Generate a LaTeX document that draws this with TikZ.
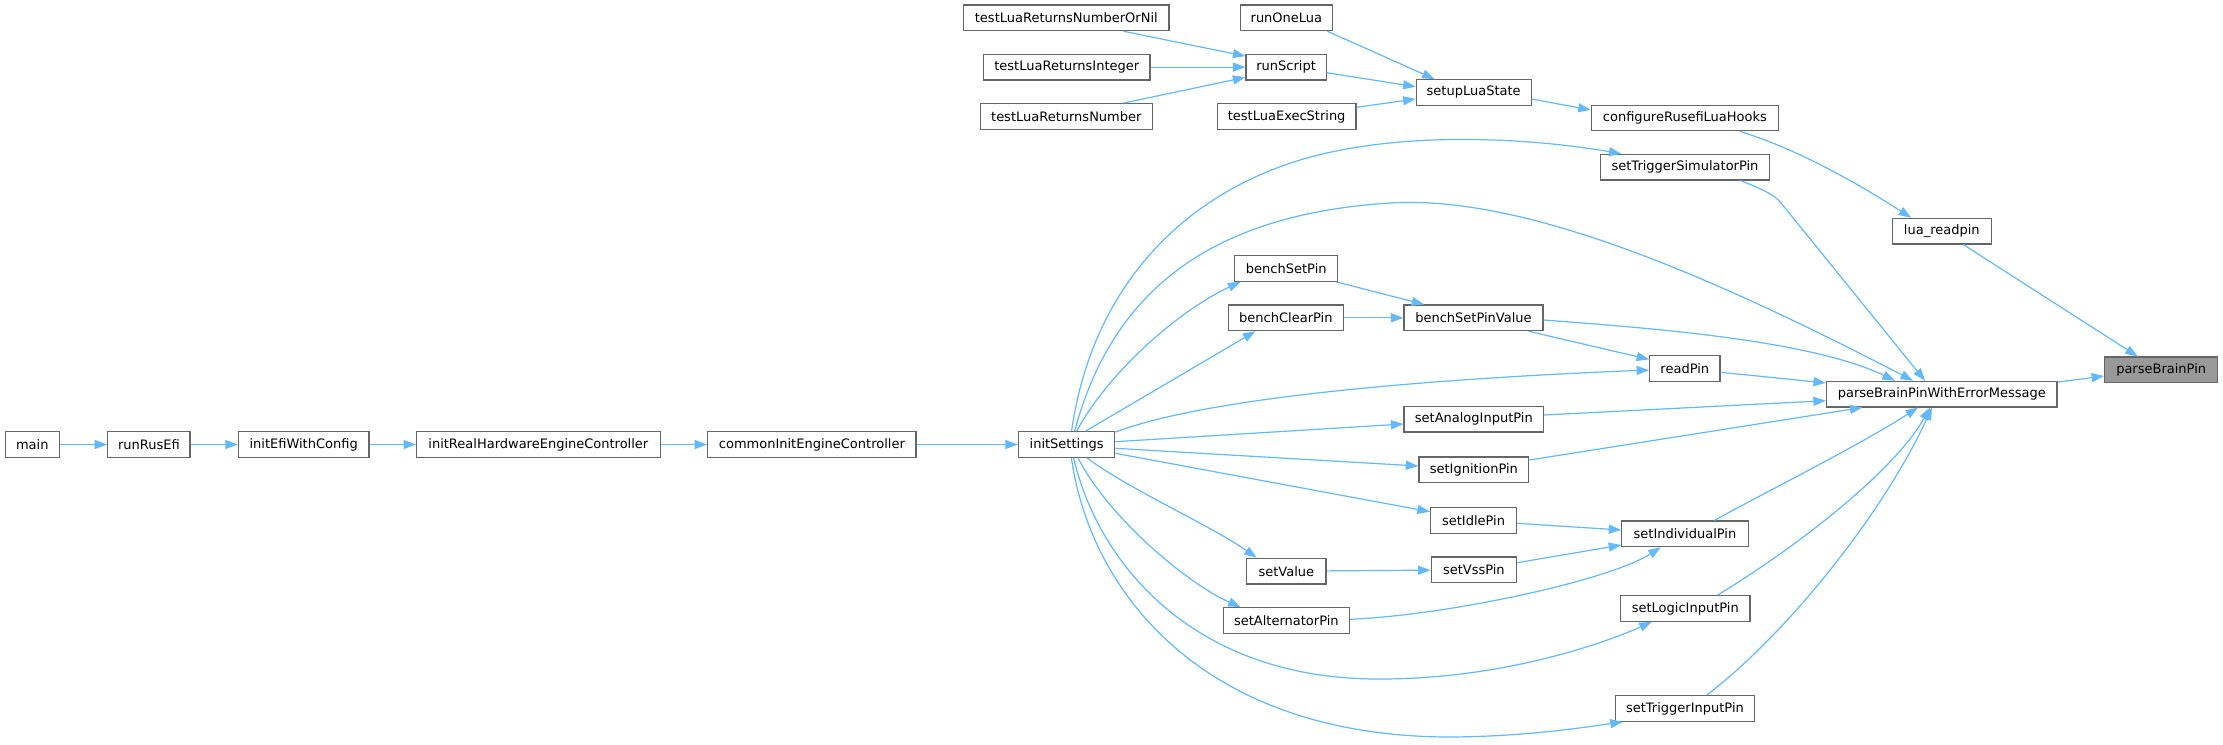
\documentclass[tikz,border=0pt]{standalone}
\usepackage{fontspec}
\setmainfont{DejaVu Sans}
\usetikzlibrary{arrows.meta,calc}
\definecolor{edgeblue}{RGB}{99,184,255}
\definecolor{boxborder}{RGB}{102,102,102}
\definecolor{hlfill}{RGB}{153,153,153}
\tikzset{
  fn/.style={draw=boxborder, line width=1.2pt, fill=white, minimum height=25.6pt, inner sep=0pt, font=\fontsize{13}{15}\selectfont, text=black},
  hl/.style={fn, fill=hlfill},
  call/.style={draw=edgeblue, line width=1.2pt, -{Triangle[length=12.5pt,width=9pt]}},
}
\begin{document}
\begin{tikzpicture}[x=1pt,y=-1pt]
\useasboundingbox[fill=white] (0,0) rectangle (2223,744);
% nodes
\node[fn, minimum width=54.3pt] (main) at (32.25,444.5) {main};
\node[fn, minimum width=82.2pt] (runRusEfi) at (148.9,444.5) {runRusEfi};
\node[fn, minimum width=130.5pt] (initEfiWithConfig) at (303.65,444.5) {initEfiWithConfig};
\node[fn, minimum width=243.5pt] (initReal) at (538.35,444.5) {initRealHardwareEngineController};
\node[fn, minimum width=208.3pt] (commonInit) at (811.85,444.5) {commonInitEngineController};
\node[fn, minimum width=96.3pt] (initSettings) at (1066.6,444.5) {initSettings};
\node[fn, minimum width=205.4pt] (tlNumberOrNil) at (1066.3,17.85) {testLuaReturnsNumberOrNil};
\node[fn, minimum width=91.6pt] (runOneLua) at (1286.4,17.85) {runOneLua};
\node[fn, minimum width=166.4pt] (tlInteger) at (1066.8,67.15) {testLuaReturnsInteger};
\node[fn, minimum width=80.2pt] (runScript) at (1286.1,67.15) {runScript};
\node[fn, minimum width=171.8pt] (tlNumber) at (1066.3,116.5) {testLuaReturnsNumber};
\node[fn, minimum width=138.7pt] (tlExec) at (1286.65,116.5) {testLuaExecString};
\node[fn, minimum width=114.9pt] (setupLuaState) at (1473.65,92.5) {setupLuaState};
\node[fn, minimum width=187.2pt] (configHooks) at (1684.9,118) {configureRusefiLuaHooks};
\node[fn, minimum width=169.1pt] (setTrigSim) at (1685,167.15) {setTriggerSimulatorPin};
\node[fn, minimum width=99pt] (luaReadpin) at (1941.8,231.15) {lua\_readpin};
\node[fn, minimum width=102.9pt] (benchSetPin) at (1286.25,268.5) {benchSetPin};
\node[fn, minimum width=114.7pt] (benchClearPin) at (1285.85,317.85) {benchClearPin};
\node[fn, minimum width=138.9pt] (benchSetPinValue) at (1473.45,317.85) {benchSetPinValue};
\node[fn, minimum width=70.2pt] (readPin) at (1684.8,368.5) {readPin};
\node[fn, minimum width=230.5pt] (pbpwem) at (1941.75,394.1) {parseBrainPinWithErrorMessage};
\node[hl, minimum width=112.9pt] (parseBrainPin) at (2161.15,369.85) {parseBrainPin};
\node[fn, minimum width=139.6pt] (setAnalog) at (1473.8,419.15) {setAnalogInputPin};
\node[fn, minimum width=109.9pt] (setIgnition) at (1473.85,469.85) {setIgnitionPin};
\node[fn, minimum width=86.1pt] (setIdle) at (1473.55,520.5) {setIdlePin};
\node[fn, minimum width=126.3pt] (setIndividual) at (1684.95,533.85) {setIndividualPin};
\node[fn, minimum width=79.1pt] (setValue) at (1286.35,571.15) {setValue};
\node[fn, minimum width=85.5pt] (setVss) at (1473.85,569.85) {setVssPin};
\node[fn, minimum width=126.3pt] (setAlternator) at (1286.35,620.5) {setAlternatorPin};
\node[fn, minimum width=129.5pt] (setLogic) at (1685.25,608.5) {setLogicInputPin};
\node[fn, minimum width=139.1pt] (setTrigInput) at (1684.95,708.5) {setTriggerInputPin};
% main chain
\draw[call] (main) -- (runRusEfi);
\draw[call] (runRusEfi) -- (initEfiWithConfig);
\draw[call] (initEfiWithConfig) -- (initReal);
\draw[call] (initReal) -- (commonInit);
\draw[call] (commonInit) -- (initSettings);
% from initSettings
\draw[call] ($(initSettings.north)+(5,0)$) .. controls (1090,300) and (1170,200) .. (1300,160) .. controls (1400,130) and (1530,138) .. ($(setTrigSim.north west)+(21.5,0)$);
\draw[call] ($(initSettings.north)+(8,0)$) .. controls (1110,300) and (1200,215) .. (1390,203) .. controls (1520,195) and (1700,270) .. ($(pbpwem.north)+(-28.75,0)$);
\draw[call] ($(initSettings.north)+(10,0)$) .. controls (1110,370) and (1180,310) .. ($(benchSetPin.south west)+(6.2,0)$);
\draw[call] ($(initSettings.north)+(19,0)$) -- ($(benchClearPin.south)+(-30.5,0)$);
\draw[call] ($(initSettings.north east)+(0,1)$) .. controls (1200,400) and (1400,380) .. ($(readPin.west)+(0,1.5)$);
\draw[call] ($(initSettings.east)+(0,-2.8)$) -- ($(setAnalog.west)+(0,4.85)$);
\draw[call] ($(initSettings.east)+(0,3.8)$) -- ($(setIgnition.west)+(0,-3.85)$);
\draw[call] ($(initSettings.east)+(0,8.8)$) -- ($(setIdle.west)+(0,-8.8)$);
\draw[call] ($(initSettings.south)+(20.4,0)$) .. controls (1130,490) and (1210,525) .. ($(setValue.north)+(-29.65,0)$);
\draw[call] ($(initSettings.south)+(11.4,0)$) .. controls (1110,520) and (1190,585) .. ($(setAlternator.north west)+(18,0)$);
\draw[call] ($(initSettings.south)+(7,0)$) .. controls (1100,570) and (1200,680) .. (1380,679) .. controls (1500,679) and (1600,645) .. ($(setLogic.south)+(-33.45,0)$);
\draw[call] ($(initSettings.south)+(4.8,0)$) .. controls (1090,590) and (1200,735) .. (1446,737) .. controls (1520,737) and (1580,728) .. ($(setTrigInput.south west)+(8,0)$);
% bench
\draw[call] ($(benchSetPin.south east)+(-2,0)$) -- ($(benchSetPinValue.north west)+(20.7,0)$);
\draw[call] (benchClearPin) -- (benchSetPinValue);
\draw[call] ($(benchSetPinValue.south east)+(-15,0)$) -- ($(readPin.north west)+(0,4.3)$);
\draw[call] ($(benchSetPinValue.east)+(0,2.15)$) .. controls (1650,328) and (1810,340) .. ($(pbpwem.north)+(-46.75,0)$);
% into pbpwem
\draw[call] ($(readPin.east)+(0,3.8)$) -- ($(pbpwem.north west)+(0,2.2)$);
\draw[call] ($(setAnalog.east)+(0,-4.15)$) -- ($(pbpwem.west)+(0,6.6)$);
\draw[call] ($(setIgnition.east)+(0,-9.85)$) -- ($(pbpwem.south west)+(36.5,0)$);
\draw[call] ($(setIndividual.north)+(29.35,0)$) .. controls (1760,495) and (1860,445) .. ($(pbpwem.south)+(-23.75,0)$);
\draw[call] ($(setLogic.north)+(32.25,0)$) .. controls (1800,545) and (1895,470) .. ($(pbpwem.south)+(-11.75,0)$);
\draw[call] ($(setTrigInput.north)+(21.65,0)$) .. controls (1780,640) and (1880,520) .. ($(pbpwem.south)+(-9.75,0)$);
\draw[call] ($(setTrigSim.south)+(55.4,0)$) .. controls (1760,188) and (1775,195) .. (1781,203) -- ($(pbpwem.north)+(-16.75,0)$);
% to parseBrainPin
\draw[call] ($(configHooks.south)+(55,0)$) .. controls (1800,150) and (1860,185) .. ($(luaReadpin.north west)+(19.5,0)$);
\draw[call] ($(luaReadpin.south)+(21.5,0)$) -- ($(parseBrainPin.north west)+(33.6,0)$);
\draw[call] ($(pbpwem.east)+(0,-12)$) -- ($(parseBrainPin.west)+(0,6.15)$);
% individual pin group
\draw[call] ($(setIdle.east)+(0,2.8)$) -- ($(setIndividual.west)+(0,-3.85)$);
\draw[call] (setValue) -- (setVss);
\draw[call] ($(setVss.east)+(0,-7.15)$) -- ($(setIndividual.west)+(0,11.15)$);
\draw[call] ($(setAlternator.east)+(0,-1.2)$) .. controls (1450,615) and (1610,580) .. ($(setIndividual.south)+(-24.25,0)$);
% lua
\draw[call] ($(tlNumberOrNil.south)+(57.2,0)$) -- ($(runScript.north west)+(0,2.35)$);
\draw[call] (tlInteger) -- (runScript);
\draw[call] ($(tlNumber.north)+(57.2,0)$) -- ($(runScript.south west)+(0,-3.25)$);
\draw[call] ($(runOneLua.south east)+(-5.4,0)$) -- ($(setupLuaState.north west)+(19,0)$);
\draw[call] ($(runScript.east)+(0,5.55)$) -- ($(setupLuaState.west)+(0,-5.8)$);
\draw[call] ($(tlExec.east)+(0,-9.2)$) -- ($(setupLuaState.west)+(0,6.5)$);
\draw[call] ($(setupLuaState.east)+(0,6.5)$) -- ($(configHooks.west)+(0,-8)$);
\end{tikzpicture}
\end{document}
